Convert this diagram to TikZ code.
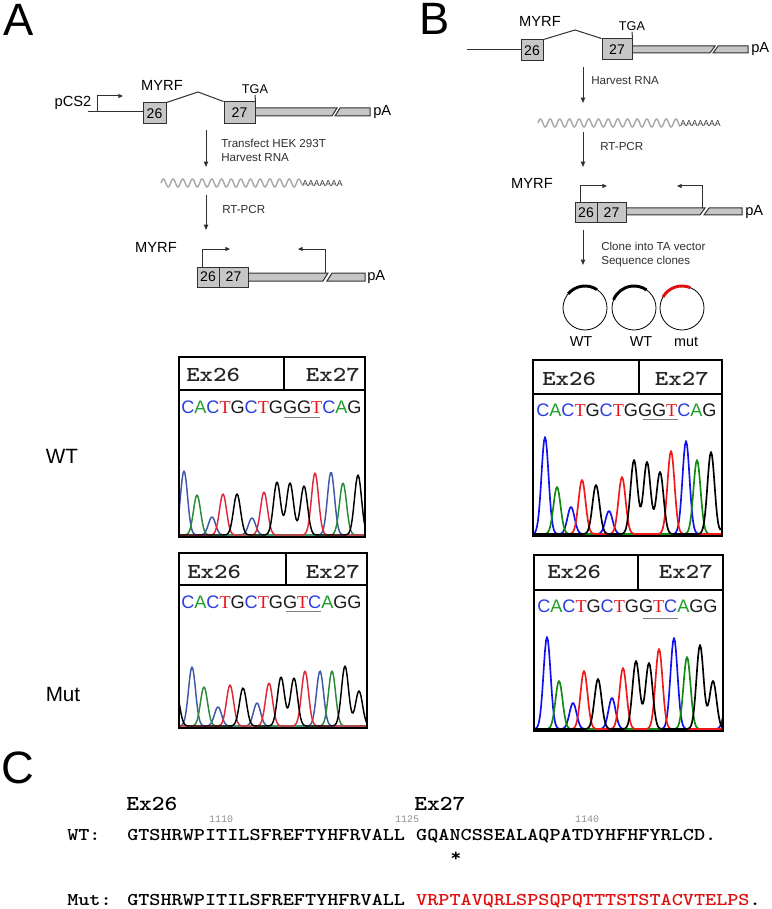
\documentclass[tikz,border=0pt]{standalone}
\usepackage{fontspec}
\usepackage{graphicx}
\setmainfont{Liberation Sans}
\newfontfamily\serifT{Liberation Serif}
\newfontfamily\numfont{Liberation Mono}
\usetikzlibrary{arrows.meta}
\definecolor{gline}{HTML}{303030}
\definecolor{gfill}{HTML}{C6C6C6}
\definecolor{rnagray}{HTML}{AAAAAA}
\definecolor{sqB}{HTML}{2A3DDF}
\definecolor{sqG}{HTML}{1E9E2A}
\definecolor{sqR}{HTML}{E5161D}
\definecolor{sqK}{HTML}{1A1A1A}
\definecolor{aB}{HTML}{4058A8}
\definecolor{aG}{HTML}{2A8A3A}
\definecolor{aR}{HTML}{E0283A}
\definecolor{bB}{HTML}{1010F0}
\definecolor{bG}{HTML}{108A10}
\definecolor{bR}{HTML}{F01818}
\definecolor{hdr}{HTML}{262626}
\definecolor{mutred}{HTML}{E01010}
\definecolor{numgray}{HTML}{909090}
\newcommand\qC{\textcolor{sqB}{C}}
\newcommand\qA{\textcolor{sqG}{A}}
\newcommand\qT{\textcolor{sqR}{\serifT T}}
\newcommand\qG{\textcolor{sqK}{G}}
\newcommand\mkmono[2]{\scalebox{#1}[1]{#2}}
\begin{document}
\begin{tikzpicture}[x=0.75pt,y=-0.75pt,
  gl/.style={draw=gline,line width=0.75pt},
  exon/.style={draw=gline,fill=gfill,line width=0.75pt,inner sep=0pt,font=\fontsize{10.5}{12}\selectfont},
  lbl/.style={inner sep=0pt,font=\fontsize{11}{13}\selectfont},
  steplbl/.style={inner sep=0pt,align=left,anchor=west,font=\fontsize{8.7}{10.5}\selectfont,text=gline},
  darr/.style={draw=gline,line width=0.75pt,-{Triangle[length=4pt,width=3.2pt]}},
  parr/.style={draw=gline,line width=0.75pt,-{Triangle[length=3.5pt,width=3pt]}},
  rna/.style={draw=rnagray,line width=1.1pt},
  polya/.style={inner sep=0pt,anchor=west,font=\fontsize{6.5}{7}\selectfont,text=gline},
  panel/.style={inner sep=0pt,font=\fontsize{34}{36}\selectfont},
  cbox/.style={draw=black,line width=1.5pt},
  hdrtxt/.style={inner sep=0pt,text=hdr,font=\ttfamily\bfseries\fontsize{16}{18}\selectfont},
  seqtxt/.style={inner sep=0pt,anchor=base west,font=\fontsize{13.6}{15}\selectfont},
  uline/.style={draw=gray,line width=0.6pt},
  trace/.style={line width=1.1pt,line join=round},
  tracebig/.style={line width=1.25pt,line join=round},
  cmono/.style={inner sep=0pt,font=\ttfamily\bfseries\fontsize{13.5}{15}\selectfont},
  numtxt/.style={inner sep=0pt,text=numgray,font=\numfont\fontsize{7.5}{8}\selectfont},
  sidelbl/.style={inner sep=0pt,font=\fontsize{15.5}{17}\selectfont},
  circlbl/.style={inner sep=0pt,font=\fontsize{10.8}{12}\selectfont},
  declare function={g(\gx,\gc,\gh)=\gh*exp(-((\gx-\gc)/5)^2);}
]
\useasboundingbox (0,0) rectangle (771,909);

% ================= Panel A : construct =================
\node[panel] (labA) at (19,20) {A};
\node[lbl] (myrfA) at (162,85) {MYRF};
\node[lbl] (pcs2) at (73,103) {pCS2};
\draw[gl] (88,112) -- (143,112);
\draw[parr] (97,112) -- (97,96) -- (123,96);
\draw[gl,fill=gfill] (255,108) -- (337,108) -- (332,116) -- (255,116) -- cycle;
\draw[gl,fill=gfill] (335,116) -- (340,108) -- (370,108) -- (370,116) -- cycle;
\node[exon,minimum width=17.25pt,minimum height=15.75pt] (a26) at (154.5,113.5) {26};
\node[exon,minimum width=23.25pt,minimum height=16.5pt] (a27) at (239.5,113) {27};
\draw[gl] (a26.north east) -- (198,92) -- (a27.north west);
\coordinate (tgaAtop) at (255,95);
\draw[gl] (a27.north east) -- (tgaAtop);
\node[lbl,font=\fontsize{9.5}{11}\selectfont] (tgaA) at (255,89) {TGA};
\node[lbl,anchor=west] (pAa) at (373,112) {pA};

\coordinate (dA1s) at (206,130); \coordinate (dA1e) at (206,167);
\draw[darr] (dA1s) -- (dA1e);
\node[steplbl] (stepA1) at (221,150) {Transfect HEK 293T\\Harvest RNA};
\draw[rna] plot[domain=161:302,samples=300] (\x,{183-4*sin((\x-161)*37.2)});
\node[polya] (polyA1) at (302,184) {AAAAAAA};
\coordinate (dA2s) at (206,195); \coordinate (dA2e) at (206,230);
\draw[darr] (dA2s) -- (dA2e);
\node[steplbl] (stepA2) at (222,210) {RT-PCR};

\node[lbl] (myrfA2) at (156,247) {MYRF};
\draw[gl,fill=gfill] (248,273) -- (328,273) -- (323,281) -- (248,281) -- cycle;
\draw[gl,fill=gfill] (327,281) -- (332,273) -- (365,273) -- (365,281) -- cycle;
\node[exon,minimum width=16.5pt,minimum height=15pt] (a26b) at (208,277) {26};
\node[exon,minimum width=21.75pt,minimum height=15pt] (a27b) at (233.5,277) {27};
\draw[parr] (202,267) -- (202,249) -- (230,249);
\draw[parr] (325,273) -- (325,249) -- (298,249);
\node[lbl,anchor=west] (pAa2) at (367,277) {pA};

% ================= Panel B : construct =================
\node[panel] (labB) at (435,19) {B};
\node[lbl] (myrfB) at (540,21) {MYRF};
\draw[gl] (467,50) -- (521,50);
\draw[gl,fill=gfill] (632,46) -- (715,46) -- (710,53) -- (632,53) -- cycle;
\draw[gl,fill=gfill] (713,53) -- (718,46) -- (748,46) -- (748,53) -- cycle;
\node[exon,minimum width=16.5pt,minimum height=15.75pt] (b26) at (532,50.5) {26};
\node[exon,minimum width=22.5pt,minimum height=15.75pt] (b27) at (617,49.5) {27};
\draw[gl] (b26.north east) -- (575,30) -- (b27.north west);
\coordinate (tgaBtop) at (632,32);
\draw[gl] (b27.north east) -- (tgaBtop);
\node[lbl,font=\fontsize{9.5}{11}\selectfont] (tgaB) at (632,26) {TGA};
\node[lbl,anchor=west] (pAb) at (751,49) {pA};

\coordinate (dB1s) at (583,67); \coordinate (dB1e) at (583,103);
\draw[darr] (dB1s) -- (dB1e);
\node[steplbl] (stepB1) at (591,81) {Harvest RNA};
\draw[rna] plot[domain=538:680,samples=300] (\x,{123-4*sin((\x-538)*37.2)});
\node[polya] (polyB1) at (680,124) {AAAAAAA};
\coordinate (dB2s) at (583,132); \coordinate (dB2e) at (583,167);
\draw[darr] (dB2s) -- (dB2e);
\node[steplbl] (stepB2) at (600,147) {RT-PCR};

\node[lbl] (myrfB2) at (532,183) {MYRF};
\draw[gl,fill=gfill] (626,208) -- (705,208) -- (700,215) -- (626,215) -- cycle;
\draw[gl,fill=gfill] (704,215) -- (709,208) -- (742,208) -- (742,215) -- cycle;
\node[exon,minimum width=16.5pt,minimum height=15pt] (b26b) at (586,213) {26};
\node[exon,minimum width=21.75pt,minimum height=15pt] (b27b) at (611.5,213) {27};
\draw[parr] (580,203) -- (580,186) -- (607,186);
\draw[parr] (702,208) -- (702,186) -- (677,186);
\node[lbl,anchor=west] (pAb2) at (745,212) {pA};

\coordinate (dB3s) at (583,230); \coordinate (dB3e) at (583,265);
\draw[darr] (dB3s) -- (dB3e);
\node[steplbl] (stepB3) at (601,255) {Clone into TA vector\\Sequence clones};

% plasmids
\draw[line width=0.6pt] (585,308) circle (22);
\draw[line width=0.6pt] (634,308) circle (22);
\draw[line width=0.6pt] (682,308) circle (22);
\draw[line width=2.2pt] ([shift={(-140:22)}]585,308) arc[start angle=-140,end angle=-57,radius=22];
\draw[line width=2.2pt] ([shift={(-158:22)}]634,308) arc[start angle=-158,end angle=-55,radius=22];
\draw[line width=2.2pt,draw=mutred] ([shift={(-150:22)}]682,308) arc[start angle=-150,end angle=-68,radius=22];
\node[circlbl] (wt1) at (581,342) {WT};
\node[circlbl] (wt2) at (641,342) {WT};
\node[circlbl] (mut1) at (686,342) {mut};

% ================= Side labels =================
\node[sidelbl] (wtA) at (62,456) {WT};
\node[sidelbl] (mutA) at (63,694) {Mut};

% ================= Chromatogram A WT =================
\begin{scope}
\clip (180,391) rectangle (364,536);
\draw[trace,aB] plot[domain=179:365,samples=190] (\x,{535-g(\x,184,64)-g(\x,212,18)-g(\x,252,17)-g(\x,331,63)});
\draw[trace,aG] plot[domain=179:365,samples=190] (\x,{535-g(\x,197,40)-g(\x,343,52)});
\draw[trace,aR] plot[domain=179:365,samples=190] (\x,{535-g(\x,223,41)-g(\x,264,43)-g(\x,315,62)});
\draw[trace,black] plot[domain=179:365,samples=190] (\x,{535-g(\x,237,41)-g(\x,277,53)-g(\x,290,52)-g(\x,304,49)-g(\x,358,60)});
\end{scope}
\draw[cbox] (179,357) rectangle (365,537);
\draw[cbox] (179,390) -- (365,390);
\draw[cbox] (284,357) -- (284,390);
\node[hdrtxt,anchor=base west] (aw26) at (186,381) {\mkmono{1.2}{Ex26}};
\node[hdrtxt,anchor=base east] (aw27) at (360,381) {\mkmono{1.2}{Ex27}};
\node[seqtxt] (awseq) at (181,413) {\qC\qA\qC\qT\qG\qC\qT\qG\qG\qG\qT\qC\qA\qG};
\draw[uline] (284,417) -- (320,417);

% ================= Chromatogram A Mut =================
\begin{scope}
\clip (180,586) rectangle (366,727);
\draw[trace,aB] plot[domain=179:367,samples=190] (\x,{726-g(\x,192,59)-g(\x,218,19)-g(\x,257,23)-g(\x,320,55)});
\draw[trace,aG] plot[domain=179:367,samples=190] (\x,{726-g(\x,204,39)-g(\x,332,55)});
\draw[trace,aR] plot[domain=179:367,samples=190] (\x,{726-g(\x,230,41)-g(\x,269,43)-g(\x,305,55)});
\draw[trace,black] plot[domain=179:367,samples=190] (\x,{726-g(\x,176,35)-g(\x,243,38)-g(\x,281,49)-g(\x,294,48)-g(\x,345,60)-g(\x,359,35)});
\end{scope}
\draw[cbox] (179,553) rectangle (367,728);
\draw[cbox] (179,585) -- (367,585);
\draw[cbox] (286,553) -- (286,585);
\node[hdrtxt,anchor=base west] (am26) at (187,578) {\mkmono{1.2}{Ex26}};
\node[hdrtxt,anchor=base east] (am27) at (360,578) {\mkmono{1.2}{Ex27}};
\node[seqtxt] (amseq) at (181,608) {\qC\qA\qC\qT\qG\qC\qT\qG\qG\qT\qC\qA\qG\qG};
\draw[uline] (286,611) -- (321,611);

% ================= Chromatogram B WT =================
\begin{scope}
\clip (534,395) rectangle (721,535);
\draw[tracebig,bB] plot[domain=533:722,samples=190] (\x,{534-g(\x,545,97)-g(\x,571,27)-g(\x,609,23)-g(\x,686,93)});
\draw[tracebig,bG] plot[domain=533:722,samples=190] (\x,{534-g(\x,557,47)-g(\x,697,74)});
\draw[tracebig,bR] plot[domain=533:722,samples=190] (\x,{534-g(\x,582,54)-g(\x,622,57)-g(\x,671,83)});
\draw[tracebig,black] plot[domain=533:722,samples=190] (\x,{534-g(\x,596,49)-g(\x,634,74)-g(\x,647,72)-g(\x,660,62)-g(\x,711,82)-g(\x,729,40)});
\end{scope}
\draw[cbox] (533,360) rectangle (722,536);
\draw[cbox] (533,394) -- (722,394);
\draw[cbox] (639,360) -- (639,394);
\node[hdrtxt,anchor=base west] (bw26) at (542,385) {\mkmono{1.2}{Ex26}};
\node[hdrtxt,anchor=base east] (bw27) at (709,385) {\mkmono{1.2}{Ex27}};
\node[seqtxt] (bwseq) at (536,416) {\qC\qA\qC\qT\qG\qC\qT\qG\qG\qG\qT\qC\qA\qG};
\draw[uline] (643,419) -- (678,419);

% ================= Chromatogram B Mut =================
\begin{scope}
\clip (535,591) rectangle (722,730);
\draw[tracebig,bB] plot[domain=534:723,samples=190] (\x,{729-g(\x,547,92)-g(\x,573,26)-g(\x,612,31)-g(\x,674,91)-g(\x,728,35)});
\draw[tracebig,bG] plot[domain=534:723,samples=190] (\x,{729-g(\x,559,48)-g(\x,687,72)});
\draw[tracebig,bR] plot[domain=534:723,samples=190] (\x,{729-g(\x,584,58)-g(\x,623,61)-g(\x,659,80)});
\draw[tracebig,black] plot[domain=534:723,samples=190] (\x,{729-g(\x,598,50)-g(\x,636,68)-g(\x,649,66)-g(\x,700,84)-g(\x,713,48)});
\end{scope}
\draw[cbox] (534,555) rectangle (723,731);
\draw[cbox] (534,590) -- (723,590);
\draw[cbox] (638,555) -- (638,590);
\node[hdrtxt,anchor=base west] (bm26) at (547,578) {\mkmono{1.2}{Ex26}};
\node[hdrtxt,anchor=base east] (bm27) at (713,578) {\mkmono{1.2}{Ex27}};
\node[seqtxt] (bmseq) at (537,612.5) {\qC\qA\qC\qT\qG\qC\qT\qG\qG\qT\qC\qA\qG\qG};
\draw[uline] (643,618) -- (678,618);

% ================= Panel C =================
\node[panel] (labC) at (18,768) {C};
\node[hdrtxt,text=black,anchor=base west] (cx26) at (126,810) {\mkmono{1.14}{Ex26}};
\node[hdrtxt,text=black,anchor=base west] (cx27) at (414,810) {\mkmono{1.14}{Ex27}};
\node[numtxt] (n1110) at (221,819) {1110};
\node[numtxt] (n1125) at (407,819) {1125};
\node[numtxt] (n1140) at (587,819) {1140};
\node[cmono,anchor=base west] (wtlab) at (67,840) {\mkmono{1.176}{WT:}};
\node[cmono,anchor=base west] (wtseq) at (127,840) {\mkmono{1.176}{GTSHRWPITILSFREFTYHFRVALL GQANCSSEALAQPATDYHFHFYRLCD.}};
\node[cmono] (star) at (456,857) {\mkmono{1.176}{*}};
\node[cmono,anchor=base west] (mutlab) at (67,905) {\mkmono{1.176}{Mut:}};
\node[cmono,anchor=base west] (mutseq) at (127,905) {\mkmono{1.176}{GTSHRWPITILSFREFTYHFRVALL \textcolor{mutred}{VRPTAVQRLSPSQPQTTTSTSTACVTELPS}.}};
\end{tikzpicture}
\end{document}
